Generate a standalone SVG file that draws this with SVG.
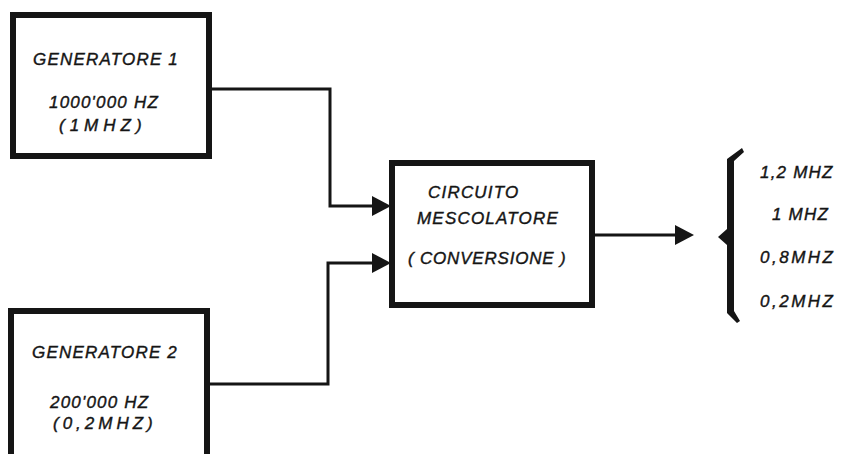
<svg xmlns="http://www.w3.org/2000/svg" width="843" height="454" viewBox="0 0 843 454">
<defs>
<style>
.box{fill:#fff;stroke:#151515;stroke-width:6}
.wire{fill:none;stroke:#151515;stroke-width:3}
.head{fill:#151515}
text{font-family:"Liberation Sans",Arial,sans-serif;font-style:italic;font-size:17px;fill:#151515;stroke:#151515;stroke-width:0.4;letter-spacing:1.2px}
</style>
</defs>
<rect width="843" height="454" fill="#fff"/>
<g id="connectors">
<polyline class="wire" points="212,89 330,89 330,206 374,206"/>
<polygon class="head" points="372,196 391,206 372,216"/>
<polyline class="wire" points="210,384 328,384 328,263 374,263"/>
<polygon class="head" points="372,253 391,263 372,273"/>
<line class="wire" x1="595" y1="235" x2="677" y2="235"/>
<polygon class="head" points="675,225 694,235 675,245"/>
</g>
<g id="generatore1">
<rect class="box" x="13" y="15" width="196" height="141"/>
<text x="33" y="65">GENERATORE 1</text>
<text x="49" y="108">1000'000 HZ</text>
<text x="59" y="131" style="letter-spacing:5px">(1MHZ)</text>
</g>
<g id="generatore2">
<rect class="box" x="11" y="311" width="196" height="200"/>
<text x="32" y="358">GENERATORE 2</text>
<text x="50" y="408">200'000 HZ</text>
<text x="53" y="429" style="letter-spacing:4px">(0,2MHZ)</text>
</g>
<g id="mescolatore">
<rect class="box" x="392" y="163" width="200" height="142"/>
<text x="428" y="198">CIRCUITO</text>
<text x="417" y="224">MESCOLATORE</text>
<text x="408" y="264" style="letter-spacing:0.8px">( CONVERSIONE )</text>
</g>
<g id="uscita">
<polygon class="head" points="742,148 744,152 734,161 734,311 740,321 737,323 727,313 727,245 718,237 727,229 727,159"/>
<text x="760" y="178">1,2 MHZ</text>
<text x="772" y="220">1 MHZ</text>
<text x="760" y="263" style="letter-spacing:2.5px">0,8MHZ</text>
<text x="760" y="307" style="letter-spacing:2.5px">0,2MHZ</text>
</g>
</svg>
